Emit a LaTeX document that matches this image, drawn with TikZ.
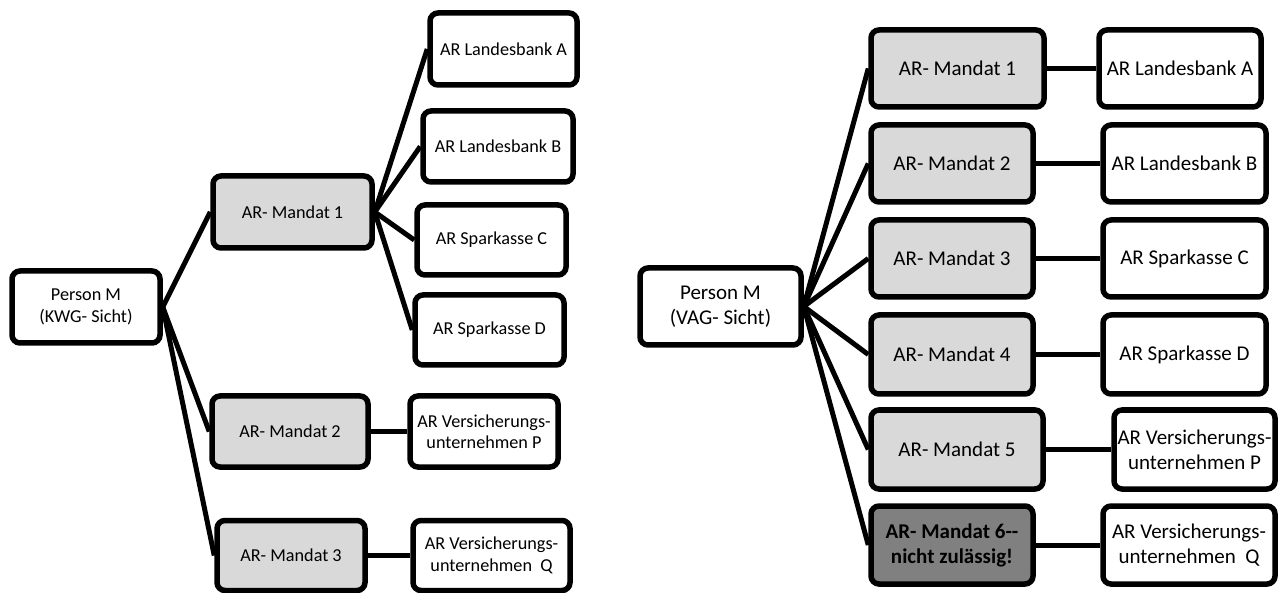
\documentclass[tikz,border=0pt]{standalone}
\usepackage{fontspec}
\setmainfont{Carlito}
\begin{document}
\begin{tikzpicture}[x=1pt,y=1pt,
  box/.style={draw=black, line width=5.5pt, rounded corners=8pt, align=center, inner sep=0pt, fill=white},
  sm/.style={font=\fontsize{18.2}{21.5}\selectfont},
  lg/.style={font=\fontsize{21}{25}\selectfont},
  mand/.style={box, fill=gray!30},
  conn/.style={line width=5pt}]
\useasboundingbox (0,0) rectangle (1285,-593);
% ---------- left diagram ----------
\node[box, sm, minimum width=148, minimum height=72] (PL) at (86,-307) {Person M\\(KWG- Sicht)};
\node[mand, sm, minimum width=159, minimum height=72] (LM1) at (292.5,-212) {AR- Mandat 1};
\node[mand, sm, minimum width=156, minimum height=71] (LM2) at (290,-431.5) {AR- Mandat 2};
\node[mand, sm, minimum width=148, minimum height=70] (LM3) at (291,-555.5) {AR- Mandat 3};
\node[box, sm, minimum width=147, minimum height=72] (LA) at (503.5,-49) {AR Landesbank A};
\node[box, sm, minimum width=150, minimum height=71] (LB) at (498,-146.5) {AR Landesbank B};
\node[box, sm, minimum width=149, minimum height=70] (LC) at (491.5,-240) {AR Sparkasse C};
\node[box, sm, minimum width=149, minimum height=70] (LD) at (489.5,-330) {AR Sparkasse D};
\node[box, sm, minimum width=148, minimum height=71] (LP) at (484,-431.5) {AR Versicherungs-\\unternehmen P};
\node[box, sm, minimum width=157, minimum height=70] (LQ) at (491.5,-555.5) {AR Versicherungs-\\unternehmen~~Q};
\draw[conn] (PL.east) -- (LM1.west);
\draw[conn] (PL.east) -- (LM2.west);
\draw[conn] (PL.east) -- (LM3.west);
\draw[conn] (LM1.east) -- (LA.west);
\draw[conn] (LM1.east) -- (LB.west);
\draw[conn] (LM1.east) -- (LC.west);
\draw[conn] (LM1.east) -- (LD.west);
\draw[conn] (LM2.east) -- (LP.west);
\draw[conn] (LM3.east) -- (LQ.west);
% ---------- right diagram ----------
\node[box, lg, minimum width=161, minimum height=77] (PR) at (720.5,-306.5) {Person M\\(VAG- Sicht)};
\node[mand, lg, minimum width=173, minimum height=77] (RM1) at (957.5,-68.5) {AR- Mandat 1};
\node[mand, lg, minimum width=162, minimum height=77] (RM2) at (952,-163.5) {AR- Mandat 2};
\node[mand, lg, minimum width=162, minimum height=77] (RM3) at (952,-258.5) {AR- Mandat 3};
\node[mand, lg, minimum width=162, minimum height=79] (RM4) at (952,-354.5) {AR- Mandat 4};
\node[mand, lg, minimum width=172, minimum height=79] (RM5) at (957,-449.5) {AR- Mandat 5};
\node[box, lg, fill=black!50, minimum width=162, minimum height=78] (RM6) at (952,-545) {\bfseries AR- Mandat 6-{}-\\\bfseries nicht zulässig!};
\node[box, lg, minimum width=162, minimum height=77] (RA) at (1180,-68.5) {AR Landesbank A};
\node[box, lg, minimum width=163, minimum height=77] (RB) at (1184.5,-163.5) {AR Landesbank B};
\node[box, lg, minimum width=163, minimum height=77] (RC) at (1184.5,-258.5) {AR Sparkasse C};
\node[box, lg, minimum width=163, minimum height=79] (RD) at (1184.5,-354.5) {AR Sparkasse D};
\node[box, lg, minimum width=161, minimum height=79] (RP) at (1194.5,-449.5) {AR Versicherungs-\\unternehmen P};
\node[box, lg, minimum width=172, minimum height=78] (RQ) at (1189,-545) {AR Versicherungs-\\unternehmen~~Q};
\draw[conn] (PR.east) -- (RM1.west);
\draw[conn] (PR.east) -- (RM2.west);
\draw[conn] (PR.east) -- (RM3.west);
\draw[conn] (PR.east) -- (RM4.west);
\draw[conn] (PR.east) -- (RM5.west);
\draw[conn] (PR.east) -- (RM6.west);
\draw[conn] (RM1.east) -- (RA.west);
\draw[conn] (RM2.east) -- (RB.west);
\draw[conn] (RM3.east) -- (RC.west);
\draw[conn] (RM4.east) -- (RD.west);
\draw[conn] (RM5.east) -- (RP.west);
\draw[conn] (RM6.east) -- (RQ.west);
\end{tikzpicture}
\end{document}
